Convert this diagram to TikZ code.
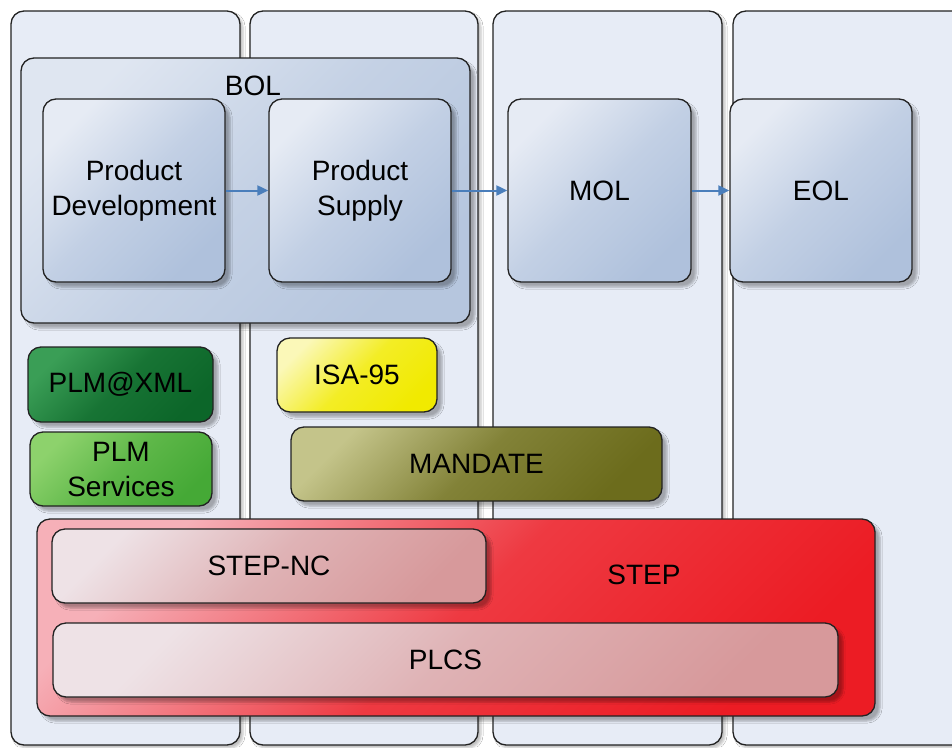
\documentclass[tikz,border=0pt]{standalone}
\usepackage{fontspec}
\setmainfont{Liberation Sans}
\usetikzlibrary{arrows.meta,shadows.blur}
\definecolor{lanefill}{HTML}{E7ECF6}
\definecolor{bolA}{HTML}{DFE6F1}
\definecolor{bolB}{HTML}{B6C6DE}
\definecolor{boxA}{HTML}{E6EBF4}
\definecolor{boxB}{HTML}{AFC1DC}
\definecolor{xmlA}{HTML}{3A9E56}
\definecolor{xmlB}{HTML}{0C6629}
\definecolor{svcA}{HTML}{8DD26C}
\definecolor{svcB}{HTML}{45A936}
\definecolor{isaA}{HTML}{FBF8B8}
\definecolor{isaB}{HTML}{F1EA00}
\definecolor{manA}{HTML}{C4C48A}
\definecolor{manB}{HTML}{6C6C1C}
\definecolor{stepA}{HTML}{F6B0B8}
\definecolor{stepB}{HTML}{EC1C24}
\definecolor{subA}{HTML}{EEE2E6}
\definecolor{subB}{HTML}{D7999B}
\definecolor{arrowblue}{HTML}{4A7EBB}
\definecolor{edge}{HTML}{222222}
\tikzset{
  every node/.style={font=\fontsize{28}{35}\selectfont, text=black},
  lane/.style={draw=edge, line width=1.3pt, rounded corners=13pt, fill=lanefill,
    blur shadow={shadow xshift=3pt, shadow yshift=-3pt, shadow opacity=25, shadow blur steps=4}},
  box/.style={draw=edge, line width=1.3pt, rounded corners=13pt, inner sep=0pt, align=center,
    blur shadow={shadow xshift=5pt, shadow yshift=-5pt, shadow opacity=30, shadow blur steps=5}},
  grad/.style n args={2}{top color=#1, bottom color=#2, middle color=#2!65!#1, shading angle=45},
  gradthree/.style n args={3}{top color=#1, bottom color=#2, middle color=#2!#3!#1, shading angle=45},
  blue box/.style={box, grad={boxA}{boxB}},
  flow/.style={draw=arrowblue, line width=2pt, -{Triangle[length=11pt,width=10pt]}},
}
\begin{document}
\begin{tikzpicture}[x=1pt,y=-1pt]
\path[use as bounding box, clip] (0,0) rectangle (952,747);
\fill[white] (0,0) rectangle (952,747);
% lanes
\node[lane, minimum width=229pt, minimum height=734pt] (lane1) at (125.5,378) {};
\node[lane, minimum width=228pt, minimum height=734pt] (lane2) at (364,378) {};
\node[lane, minimum width=229pt, minimum height=734pt] (lane3) at (607.5,378) {};
\node[lane, minimum width=240pt, minimum height=734pt] (lane4) at (853,378) {};
% BOL
\node[box, grad={bolA}{bolB}, minimum width=449pt, minimum height=265pt] (bol) at (245.5,190.5) {};
\node (bollabel) at (253,86) {BOL};
\node[blue box, minimum width=182pt, minimum height=183pt] (pd) at (134,190.5) {Product\\Development};
\node[blue box, minimum width=182pt, minimum height=183pt] (ps) at (360,190.5) {Product\\Supply};
\node[blue box, minimum width=183pt, minimum height=183pt] (mol) at (599.5,190.5) {MOL};
\node[blue box, minimum width=182pt, minimum height=183pt] (eol) at (821,190.5) {EOL};
\draw[flow] (pd) -- (ps);
\draw[flow] (ps) -- (mol);
\draw[flow] (mol) -- (eol);
% standards
\node[box, gradthree={xmlA}{xmlB}{75}, minimum width=185pt, minimum height=75pt] (xml) at (120.5,384.5) {PLM@XML};
\node[box, grad={svcA}{svcB}, minimum width=182pt, minimum height=74pt] (svc) at (121,469) {PLM\\Services};
\node[box, gradthree={isaA}{isaB}{80}, minimum width=160pt, minimum height=74pt] (isa) at (357,375) {ISA-95};
\node[box, gradthree={manA}{manB}{75}, minimum width=371pt, minimum height=74pt] (mandate) at (476.5,464) {MANDATE};
% STEP
\node[box, gradthree={stepA}{stepB}{80}, minimum width=838pt, minimum height=197pt] (step) at (456,617.5) {};
\node (steplabel) at (644,575) {STEP};
\node[box, grad={subA}{subB}, minimum width=434pt, minimum height=74pt] (stepnc) at (269,566) {STEP-NC};
\node[box, grad={subA}{subB}, minimum width=785pt, minimum height=74pt] (plcs) at (445.5,660) {PLCS};
\end{tikzpicture}
\end{document}
